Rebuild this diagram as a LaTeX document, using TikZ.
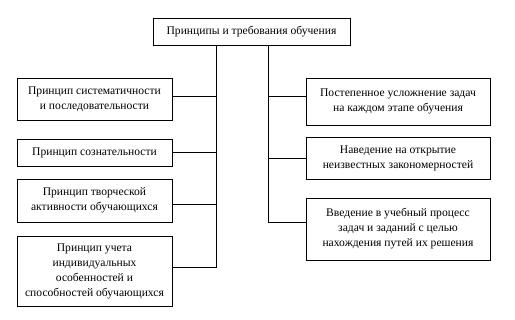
\documentclass[tikz,border=0pt]{standalone}
\usepackage{fontspec}
\setmainfont{Liberation Serif}
\usetikzlibrary{positioning,calc}

\begin{document}
\begin{tikzpicture}[
  x=1pt, y=-1pt,
  font=\fontsize{11.6}{15}\selectfont,
  box/.style={draw, line width=0.7pt, align=center, inner sep=2pt},
  link/.style={line width=0.7pt}
]
\useasboundingbox (0,0) rectangle (515,320);
% top
\node[box, minimum width=197pt, minimum height=27pt] (top) at (251.5,31.5) {Принципы и требования обучения};
% left column
\node[box, minimum width=155pt, minimum height=42pt] (sys) at (94.5,99) {Принцип систематичности\\и последовательности};
\node[box, minimum width=155pt, minimum height=27pt] (soz) at (94.5,152.5) {Принцип сознательности};
\node[box, minimum width=155pt, minimum height=43pt] (tvor) at (94.5,200.5) {Принцип творческой\\активности обучающихся};
\node[box, minimum width=155pt, minimum height=70pt] (uch) at (94.5,271) {Принцип учета\\индивидуальных\\особенностей и\\способностей обучающихся};
% right column
\node[box, minimum width=184pt, minimum height=47pt] (usl) at (398,101.5) {Постепенное усложнение задач\\на каждом этапе обучения};
\node[box, minimum width=184pt, minimum height=42pt] (nav) at (398,158) {Наведение на открытие\\неизвестных закономерностей};
\node[box, minimum width=184pt, minimum height=62pt] (vved) at (398,229) {Введение в учебный процесс\\задач и заданий с целью\\нахождения путей их решения};

\coordinate (lsp) at (216,0);
\coordinate (rsp) at (268,0);

% left spine
\draw[link] (top.south -| lsp) |- ([yshift=4pt]uch.east);
\draw[link] ([yshift=3pt]sys.east) -- ([yshift=3pt]sys.east -| lsp);
\draw[link] (soz.east) -- (soz.east -| lsp);
\draw[link] ([yshift=-3.5pt]tvor.east) -- ([yshift=-3.5pt]tvor.east -| lsp);
% right spine
\draw[link] (top.south -| rsp) |- ([yshift=7pt]vved.west);
\draw[link] ([yshift=5.5pt]usl.west) -- ([yshift=5.5pt]usl.west -| rsp);
\draw[link] (nav.west) -- (nav.west -| rsp);
\end{tikzpicture}
\end{document}
